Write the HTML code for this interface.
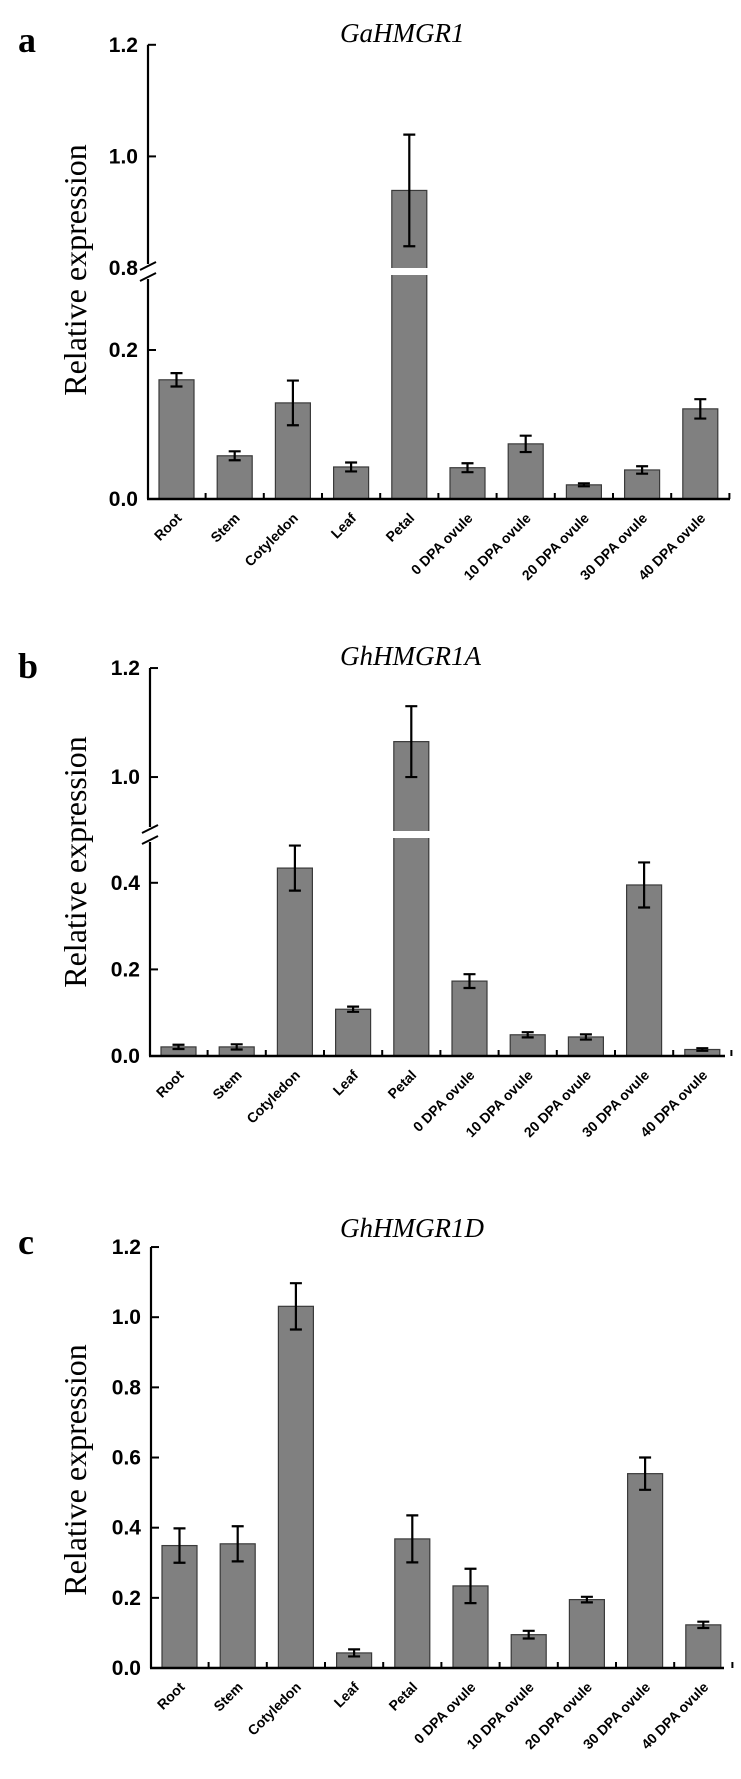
<!DOCTYPE html>
<html><head><meta charset="utf-8">
<style>
html,body{margin:0;padding:0;background:#fff;}
svg{display:block;}
.tick{font-family:"Liberation Sans",Arial,sans-serif;font-weight:bold;font-size:21px;fill:#000;}
.xl{font-family:"Liberation Sans",Arial,sans-serif;font-weight:bold;font-size:14px;fill:#000;}
.ttl{font-family:"Liberation Serif","Times New Roman",serif;font-style:italic;font-size:27px;fill:#000;}
.let{font-family:"Liberation Serif","Times New Roman",serif;font-weight:bold;font-size:36px;fill:#000;}
.yt{font-family:"Liberation Serif","Times New Roman",serif;font-size:32px;fill:#000;}
</style></head>
<body>
<svg id="fig" width="741" height="1779" viewBox="0 0 741 1779" xmlns="http://www.w3.org/2000/svg"></svg>
<script>
const categories = ["Root","Stem","Cotyledon","Leaf","Petal","0 DPA ovule","10 DPA ovule","20 DPA ovule","30 DPA ovule","40 DPA ovule"];
const valuesA = [0.160,0.058,0.129,0.043,0.939,0.042,0.074,0.019,0.039,0.121];
const errorsA = [0.009,0.006,0.030,0.006,0.100,0.006,0.011,0.002,0.005,0.013];
const valuesB = [0.021,0.021,0.434,0.108,1.065,0.173,0.049,0.044,0.395,0.015];
const errorsB = [0.005,0.006,0.052,0.006,0.065,0.016,0.006,0.006,0.052,0.003];
const valuesC = [0.349,0.354,1.031,0.043,0.368,0.234,0.095,0.195,0.554,0.123];
const errorsC = [0.049,0.050,0.066,0.010,0.067,0.049,0.011,0.008,0.046,0.009];
const ticksA = ["0.0","0.2","0.8","1.0","1.2"];
const ticksB = ["0.0","0.2","0.4","1.0","1.2"];
const ticksC = ["0.0","0.2","0.4","0.6","0.8","1.0","1.2"];

const NS="http://www.w3.org/2000/svg";
const svg=document.getElementById('fig');
function mk(tag,attrs,parent){const e=document.createElementNS(NS,tag);for(const k in attrs)e.setAttribute(k,attrs[k]);(parent||svg).appendChild(e);return e;}

const panels=[
 {id:'a',title:'GaHMGR1',vals:valuesA,errs:errorsA,ticks:ticksA,ax:148,axEnd:730,y0:499,lowS:745,lowTop:0.30,
  up:{vMin:0.8,yMin:268,s:558},breakY:[268,275],letterY:52,titleY:42,ytC:270},
 {id:'b',title:'GhHMGR1A',vals:valuesB,errs:errorsB,ticks:ticksB,ax:150,axEnd:725,y0:1056,lowS:433,lowTop:0.503,
  up:{vMin:0.901,yMin:831,s:545},breakY:[831,838],letterY:678,titleY:665,ytC:862},
 {id:'c',title:'GhHMGR1D',vals:valuesC,errs:errorsC,ticks:ticksC,ax:151,axEnd:724,y0:1668,lowS:350.8,lowTop:1.2,
  up:null,breakY:null,letterY:1254,titleY:1237,ytC:1470}
];

panels.forEach(p=>{
  const g=mk('g',{});
  
  
  const yScale=v=>{
    if(p.up && v>=p.up.vMin) return p.up.yMin-(v-p.up.vMin)*p.up.s;
    return p.y0-v*p.lowS;
  };
  const xCenter=i=>p.ax+28.5+58.2*i;
  const bw=35;
  const L=mk('text',{x:18,y:p.letterY,class:'let'},g);L.textContent=p.id;
  
  
  const T=mk('text',{x:340,y:p.titleY,class:'ttl'},g);T.textContent=p.title;
  
  
  const Y=mk('text',{x:0,y:0,class:'yt','text-anchor':'middle',transform:`translate(86,${p.ytC}) rotate(-90)`},g);Y.textContent='Relative expression';
  
  
  p.vals.forEach((v,i)=>{
    const cx=xCenter(i);const top=yScale(v);
    const r=mk('rect',{x:cx-bw/2,y:top,width:bw,height:p.y0-top,fill:'#808080',stroke:'#3a3a3a','stroke-width':1.2},g);
    
    
    if(p.breakY && top<p.breakY[0]){
      const gap=mk('rect',{x:cx-bw/2-2,y:p.breakY[0],width:bw+4,height:p.breakY[1]-p.breakY[0],fill:'#fff'},g);
      
      
    }
    const e=p.errs[i];const y1=yScale(v+e),y2=yScale(v-e);
    const eb=mk('path',{d:`M${cx},${y1}V${y2}M${cx-6},${y1}H${cx+6}M${cx-6},${y2}H${cx+6}`,stroke:'#000','stroke-width':2.2,fill:'none'},g);
    
    
    const xl=mk('text',{x:0,y:0,class:'xl','text-anchor':'end',transform:`translate(${cx+6},${p.y0+20}) rotate(-45)`},g);
    xl.textContent=categories[i];
    
    
  });
  const top=yScale(1.2);
  let d;
  if(p.breakY){d=`M${p.ax},${top}V${p.breakY[0]-4}M${p.ax},${p.breakY[1]+4}V${p.y0}`;}
  else d=`M${p.ax},${top}V${p.y0}`;
  const ya=mk('path',{d:d,stroke:'#000','stroke-width':2.2,fill:'none'},g);
  
  
  if(p.breakY){
    const bm=mk('path',{d:`M${p.ax-8},${p.breakY[0]+2}L${p.ax+8},${p.breakY[0]-6}M${p.ax-8},${p.breakY[1]+6}L${p.ax+8},${p.breakY[1]-2}`,stroke:'#000','stroke-width':2,fill:'none'},g);
    
    
  }
  p.ticks.forEach(t=>{
    const v=parseFloat(t);const y=yScale(v);
    if(!(p.breakY && Math.abs(y-p.breakY[0])<1)){
      const tk=mk('path',{d:`M${p.ax},${y}H${p.ax+8}`,stroke:'#000','stroke-width':2},g);
      
      
    }
    const tl=mk('text',{x:p.ax-10,y:y+7,class:'tick','text-anchor':'end'},g);tl.textContent=t;
    
    
  });
  const xa=mk('path',{d:`M${p.ax-1},${p.y0}H${p.axEnd}`,stroke:'#000','stroke-width':2.4},g);
  
  
  for(let i=0;i<categories.length;i++){
    const x=xCenter(i)+29.1;
    const tk=mk('path',{d:`M${x},${p.y0}V${p.y0-6}`,stroke:'#000','stroke-width':2},g);
    
    
  }
});
</script>
</body></html>
